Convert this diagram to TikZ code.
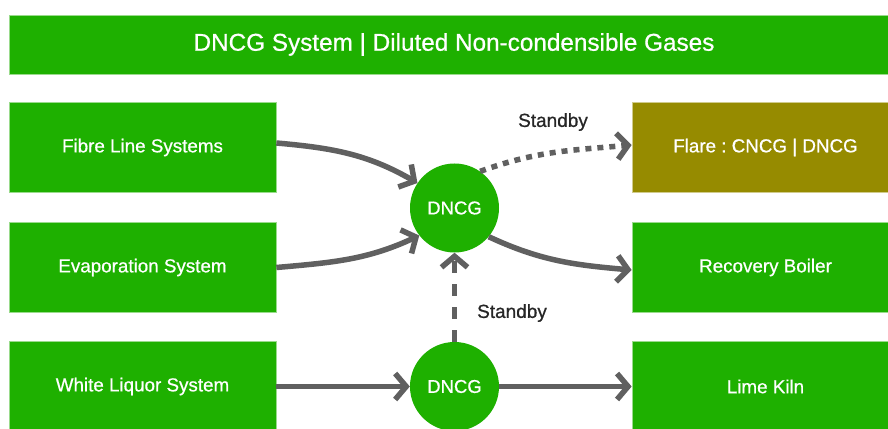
\documentclass[tikz,border=0pt]{standalone}
\usepackage{fontspec}
\setmainfont[RawFeature={embolden=0.7}]{Liberation Sans}
\usetikzlibrary{arrows.meta}
\definecolor{boxgreen}{HTML}{1EB000}
\definecolor{flareolive}{HTML}{968B00}
\definecolor{arrowgray}{HTML}{606060}
\definecolor{labeldark}{HTML}{262626}
\frenchspacing
\begin{document}
\begin{tikzpicture}[x=1pt,y=1pt,
  sbox/.style={rectangle, fill=boxgreen, draw=boxgreen!45!white, line width=0.7pt,
    text=white, minimum width=267pt, minimum height=90pt, inner sep=0pt,
    font=\fontsize{18.8}{22}\selectfont},
  flarebox/.style={sbox, fill=flareolive, draw=flareolive!45!white},
  hub/.style={circle, fill=boxgreen, draw=none, minimum size=89pt, inner sep=0pt,
    text=white, font=\fontsize{18.5}{22}\selectfont},
  conn/.style={draw=arrowgray, line width=5.5pt,
    -{Straight Barb[length=11pt,width=26pt]}},
  dotline/.style={dash pattern=on 6pt off 6pt},
  dashline/.style={dash pattern=on 12pt off 11pt},
  lbl/.style={text=labeldark, inner sep=0pt, font=\fontsize{19}{22}\selectfont}]
\useasboundingbox (0,0) rectangle (888,428);
\fill[white] (0,0) rectangle (888,428);
\begin{scope}
\clip (0,0) rectangle (888,428);
\node[sbox, minimum width=890pt, minimum height=59pt, font=\fontsize{24.3}{28}\selectfont]
  (title) at (454,383.5) {DNCG System | Diluted Non-condensible Gases};
\node[sbox] (fibre) at (142.5,280.5) {Fibre Line Systems};
\node[sbox] (evap) at (142.5,160.5) {Evaporation System};
\node[sbox] (white) at (142.5,41.5) {White Liquor System};
\node[flarebox] (flare) at (765.5,280.5) {Flare : CNCG | DNCG};
\node[sbox] (recov) at (765.5,160.5) {Recovery Boiler};
\node[sbox] (lime) at (765.5,41.5) {Lime Kiln};
\node[hub] (c1) at (454.5,220) {DNCG};
\node[hub] (c2) at (454.5,41.5) {DNCG};
\node[lbl] (sb1) at (553,306) {Standby};
\node[lbl] (sb2) at (512,115) {Standby};
\draw[conn] ([yshift=4.5pt]fibre.east) to[out=-5,in=150] (c1.146);
\draw[conn] (evap.east) to[out=5,in=205] (c1.218);
\draw[conn] (c1.-40) to[out=-25,in=175] ([yshift=-2.5pt]recov.west);
\draw[conn,dotline] (c1.55) to[out=20,in=185] ([yshift=2.5pt]flare.west);
\draw[conn,dashline] (c2.north) -- (c1.south);
\draw[conn] (white.east) -- (c2.west);
\draw[conn] (c2.east) -- (lime.west);
\end{scope}
\end{tikzpicture}
\end{document}
